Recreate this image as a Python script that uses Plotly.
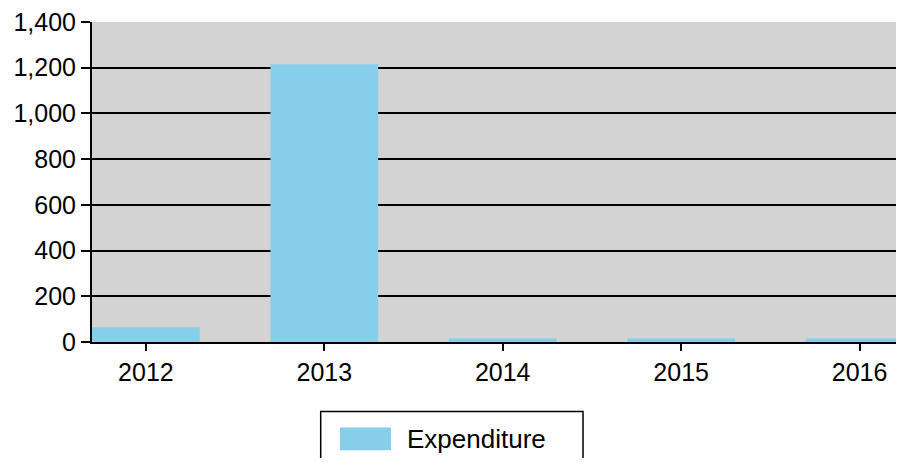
import plotly.graph_objects as go

years = ["2012", "2013", "2014", "2015", "2016"]
expenditure = [65, 1215, 15, 15, 15]
series_name = "Expenditure"
y_ticks = [0, 200, 400, 600, 800, 1000, 1200, 1400]

FONT = "Liberation Sans, Arial, sans-serif"
BAR = "#87ceeb"

fig = go.Figure()
fig.add_trace(go.Bar(x=years, y=expenditure, name=series_name,
                     marker=dict(color=BAR, line=dict(width=0)),
                     showlegend=False))

fig.update_layout(
    width=904, height=450,
    autosize=False,
    margin=dict(l=84, r=0, t=12, b=116),
    paper_bgcolor="white",
    plot_bgcolor="#d3d3d3",
    bargap=0.396,
    font=dict(family=FONT, size=25, color="black"),
    xaxis=dict(
        type="category",
        range=[-0.302, 4.294],
        showgrid=False,
        showline=True, linecolor="black", linewidth=2,
        ticks="outside", ticklen=7, tickwidth=1.5, tickcolor="black",
        tickfont=dict(family=FONT, size=25, color="black"),
        fixedrange=True,
    ),
    yaxis=dict(
        range=[0, 1400],
        tickvals=y_ticks,
        tickformat=",",
        ticklabeloverflow="allow",
        showgrid=True, gridcolor="black", gridwidth=2,
        zeroline=False,
        showline=True, linecolor="black", linewidth=2,
        ticks="outside", ticklen=9, tickwidth=2, tickcolor="black",
        tickfont=dict(family=FONT, size=25, color="black"),
        fixedrange=True,
    ),
)

# Legend box (drawn manually to match large swatch)
fig.add_shape(type="rect", xref="paper", yref="paper",
              x0=0.2789, x1=0.5988, y0=-0.217, y1=-0.42,
              line=dict(color="black", width=1.5), fillcolor="white", layer="above")
fig.add_shape(type="rect", xref="paper", yref="paper",
              x0=0.3024, x1=0.3646, y0=-0.2671, y1=-0.3385,
              line=dict(width=0), fillcolor=BAR, layer="above")
fig.add_annotation(xref="paper", yref="paper", x=0.3817, y=-0.3028,
                   text=series_name, showarrow=False, xanchor="left", yanchor="middle",
                   font=dict(family=FONT, size=26, color="black"))

fig.write_html("out.html", config={"responsive": False})
